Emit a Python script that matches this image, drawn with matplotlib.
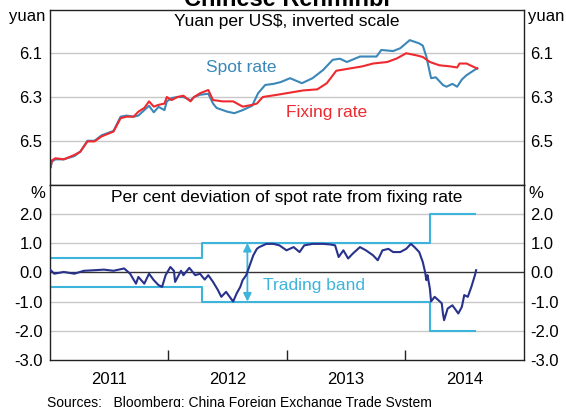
import matplotlib
matplotlib.use("Agg")
import matplotlib.pyplot as plt

plt.rcParams["font.family"] = ["Liberation Sans", "DejaVu Sans"]

# ── data (decimal years) ─────────────────────────────────────────
fix_t = [2011.01, 2011.02, 2011.05, 2011.12, 2011.21, 2011.26, 2011.32, 2011.38,
         2011.44, 2011.54, 2011.60, 2011.65, 2011.71, 2011.75, 2011.80, 2011.84,
         2011.88, 2011.92, 2011.97, 2011.99, 2012.03, 2012.08, 2012.13, 2012.19,
         2012.22, 2012.27, 2012.34, 2012.38, 2012.46, 2012.55, 2012.63, 2012.71,
         2012.75, 2012.80, 2012.92, 2013.03, 2013.14, 2013.26, 2013.34, 2013.42,
         2013.53, 2013.64, 2013.73, 2013.85, 2013.93, 2014.01, 2014.10, 2014.15,
         2014.21, 2014.29, 2014.38, 2014.44, 2014.46, 2014.52, 2014.55, 2014.61]
fix_v = [6.62, 6.59, 6.58, 6.585, 6.565, 6.55, 6.503, 6.503,
         6.48, 6.458, 6.397, 6.39, 6.39, 6.367, 6.35, 6.32,
         6.344, 6.336, 6.33, 6.30, 6.314, 6.30, 6.294, 6.32,
         6.30, 6.283, 6.268, 6.314, 6.32, 6.32, 6.344, 6.336,
         6.33, 6.30, 6.29, 6.28, 6.27, 6.265, 6.237, 6.18,
         6.17, 6.16, 6.147, 6.14, 6.124, 6.10, 6.11, 6.117,
         6.14, 6.155, 6.16, 6.165, 6.147, 6.147, 6.155, 6.17]

spot_t = [2011.01, 2011.02, 2011.05, 2011.12, 2011.21, 2011.26, 2011.32, 2011.38,
          2011.44, 2011.54, 2011.60, 2011.65, 2011.71, 2011.75, 2011.80, 2011.84,
          2011.88, 2011.92, 2011.97, 2011.99, 2012.03, 2012.08, 2012.13, 2012.19,
          2012.22, 2012.27, 2012.34, 2012.38, 2012.41, 2012.50, 2012.56, 2012.63,
          2012.71, 2012.76, 2012.82, 2012.89, 2012.95, 2013.03, 2013.13, 2013.22,
          2013.31, 2013.39, 2013.45, 2013.51, 2013.62, 2013.76, 2013.80, 2013.90,
          2013.96, 2014.04, 2014.12, 2014.15, 2014.18, 2014.22, 2014.26, 2014.32,
          2014.35, 2014.40, 2014.44, 2014.48, 2014.52, 2014.61]
spot_v = [6.62, 6.595, 6.585, 6.585, 6.57, 6.55, 6.50, 6.50,
          6.475, 6.455, 6.39, 6.385, 6.39, 6.385, 6.36, 6.34,
          6.37, 6.345, 6.36, 6.32, 6.305, 6.30, 6.30, 6.315,
          6.30, 6.29, 6.285, 6.33, 6.35, 6.367, 6.374, 6.36,
          6.34, 6.283, 6.245, 6.24, 6.232, 6.214, 6.237, 6.214,
          6.176, 6.13, 6.125, 6.14, 6.115, 6.115, 6.085, 6.09,
          6.077, 6.04, 6.055, 6.065, 6.115, 6.214, 6.21, 6.245,
          6.253, 6.24, 6.253, 6.22, 6.20, 6.168]

dev_t = [2011.00, 2011.01, 2011.04, 2011.12, 2011.21, 2011.29, 2011.38, 2011.46,
         2011.54, 2011.63, 2011.68, 2011.73, 2011.75, 2011.80, 2011.84, 2011.88,
         2011.92, 2011.95, 2011.98, 2012.02, 2012.05, 2012.06, 2012.11, 2012.13,
         2012.18, 2012.23, 2012.27, 2012.31, 2012.34, 2012.38, 2012.42, 2012.45,
         2012.49, 2012.54, 2012.55, 2012.58, 2012.61, 2012.63, 2012.66, 2012.69,
         2012.72, 2012.75, 2012.77, 2012.83, 2012.89, 2012.94, 2013.00, 2013.06,
         2013.11, 2013.15, 2013.22, 2013.31, 2013.37, 2013.41, 2013.44, 2013.48,
         2013.52, 2013.56, 2013.62, 2013.67, 2013.73, 2013.77, 2013.81, 2013.86,
         2013.90, 2013.96, 2014.01, 2014.05, 2014.08, 2014.12, 2014.15, 2014.17,
         2014.18, 2014.19, 2014.21, 2014.22, 2014.25, 2014.28, 2014.31, 2014.32,
         2014.33, 2014.36, 2014.40, 2014.45, 2014.48, 2014.50, 2014.53, 2014.56,
         2014.59, 2014.60]
dev_v = [0.10, 0.07, -0.05, 0.01, -0.05, 0.05, 0.07, 0.09,
         0.05, 0.13, -0.05, -0.39, -0.16, -0.39, -0.05, -0.27,
         -0.44, -0.50, -0.10, 0.18, 0.05, -0.33, 0.05, -0.10,
         0.15, -0.10, -0.05, -0.25, -0.10, -0.33, -0.60, -0.84,
         -0.67, -0.95, -1.00, -0.72, -0.50, -0.27, -0.10, 0.24,
         0.58, 0.80, 0.86, 0.97, 0.97, 0.92, 0.75, 0.86,
         0.69, 0.92, 0.97, 0.97, 0.95, 0.92, 0.52, 0.75,
         0.47, 0.64, 0.86, 0.75, 0.58, 0.41, 0.75, 0.80,
         0.69, 0.69, 0.80, 0.97, 0.86, 0.69, 0.35, 0.00,
         -0.27, -0.10, -0.56, -1.00, -0.84, -0.95, -1.06, -1.41,
         -1.64, -1.24, -1.13, -1.41, -1.18, -0.78, -0.84, -0.50,
         -0.10, 0.07]

band_t = [2011.0, 2012.29, 2014.21, 2014.59]
band_w = [0.5, 1.0, 2.0, 2.0]

years = [2011, 2012, 2013, 2014]

C_SPOT = "#3a87b8"
C_FIX = "#ee2a2f"
C_DEV = "#28328c"
C_BAND = "#3cb4dc"
C_GRID = "#c8c8c8"
FS = 12

W, H = 566, 407
fig = plt.figure(figsize=(W / 100, H / 100), dpi=100)
ax1 = fig.add_axes([49.5 / W, 1 - 184.5 / H, 474 / W, 175 / H])
ax2 = fig.add_axes([49.5 / W, 1 - 360 / H, 474 / W, 175.5 / H])

for ax in (ax1, ax2):
    ax.set_xlim(2011, 2015)
    for s in ax.spines.values():
        s.set_linewidth(1.0)
        s.set_color("#222222")
    ax.tick_params(axis="y", length=0, labelsize=FS, labelleft=True,
                   labelright=True, pad=5)

# ── top panel: exchange rates ────────────────────────────────────
ax1.set_ylim(6.7, 5.9)
ax1.set_yticks([6.1, 6.3, 6.5])
ax1.set_yticklabels(["6.1", "6.3", "6.5"])
for v in [6.1, 6.3, 6.5]:
    ax1.axhline(v, color=C_GRID, lw=1, zorder=0)
ax1.plot(spot_t, spot_v, color=C_SPOT, lw=1.5)
ax1.plot(fix_t, fix_v, color=C_FIX, lw=1.5)
ax1.set_xticks([])
ax1.text(0.5, 0.93, "Yuan per US$, inverted scale", transform=ax1.transAxes,
         ha="center", va="center", fontsize=12.5)
ax1.text(2012.62, 6.163, "Spot rate", color=C_SPOT, ha="center",
         va="center", fontsize=12.5)
ax1.text(2013.34, 6.373, "Fixing rate", color=C_FIX, ha="center",
         va="center", fontsize=12.5)

# ── bottom panel: deviation and trading band ─────────────────────
ax2.set_ylim(-3, 3)
ax2.set_yticks([-3, -2, -1, 0, 1, 2])
ax2.set_yticklabels(["-3.0", "-2.0", "-1.0", "0.0", "1.0", "2.0"])
for v in [-2, -1, 1, 2]:
    ax2.axhline(v, color=C_GRID, lw=1, zorder=0)
ax2.axhline(0, color="#333333", lw=1, zorder=1)
ax2.step(band_t, band_w, where="post", color=C_BAND, lw=1.5, zorder=2)
ax2.step(band_t, [-w for w in band_w], where="post", color=C_BAND, lw=1.5,
         zorder=2)
ax2.plot(dev_t, dev_v, color=C_DEV, lw=1.5, zorder=3)
ax2.annotate("", xy=(2012.67, 1.0), xytext=(2012.67, -1.0),
             arrowprops=dict(arrowstyle="<|-|>", color=C_BAND, lw=1.3,
                             mutation_scale=12, shrinkA=0, shrinkB=0),
             zorder=2)
ax2.text(2012.8, -0.47, "Trading band", color=C_BAND, ha="left",
         va="center", fontsize=12.5)
ax2.text(0.5, 0.925, "Per cent deviation of spot rate from fixing rate",
         transform=ax2.transAxes, ha="center", va="center", fontsize=12.5)

ax2.set_xticks([y for y in years[1:]])
ax2.set_xticklabels([])
ax2.tick_params(axis="x", which="major", direction="in", length=7,
                width=1, color="#222222")
ax2.set_xticks([y + 0.5 for y in years], minor=True)
ax2.set_xticklabels([str(y) for y in years], minor=True, fontsize=FS)
ax2.tick_params(axis="x", which="minor", length=0, pad=9)

# ── unit labels, title and source ────────────────────────────────
for y_px, lab in [(17, "yuan"), (193, "%")]:
    fig.text(45 / W, 1 - y_px / H, lab, ha="right", va="center", fontsize=FS)
    fig.text(528 / W, 1 - y_px / H, lab, ha="left", va="center", fontsize=FS)

fig.text(286.5 / W, 1 - 5.5 / H, "Chinese Renminbi", ha="center",
         va="baseline", fontsize=17, fontweight="bold")
fig.text(47 / W, 1 - 396 / H,
         "Sources:   Bloomberg; China Foreign Exchange Trade System",
         ha="left", va="top", fontsize=10)

fig.savefig("out.png", dpi=100)
